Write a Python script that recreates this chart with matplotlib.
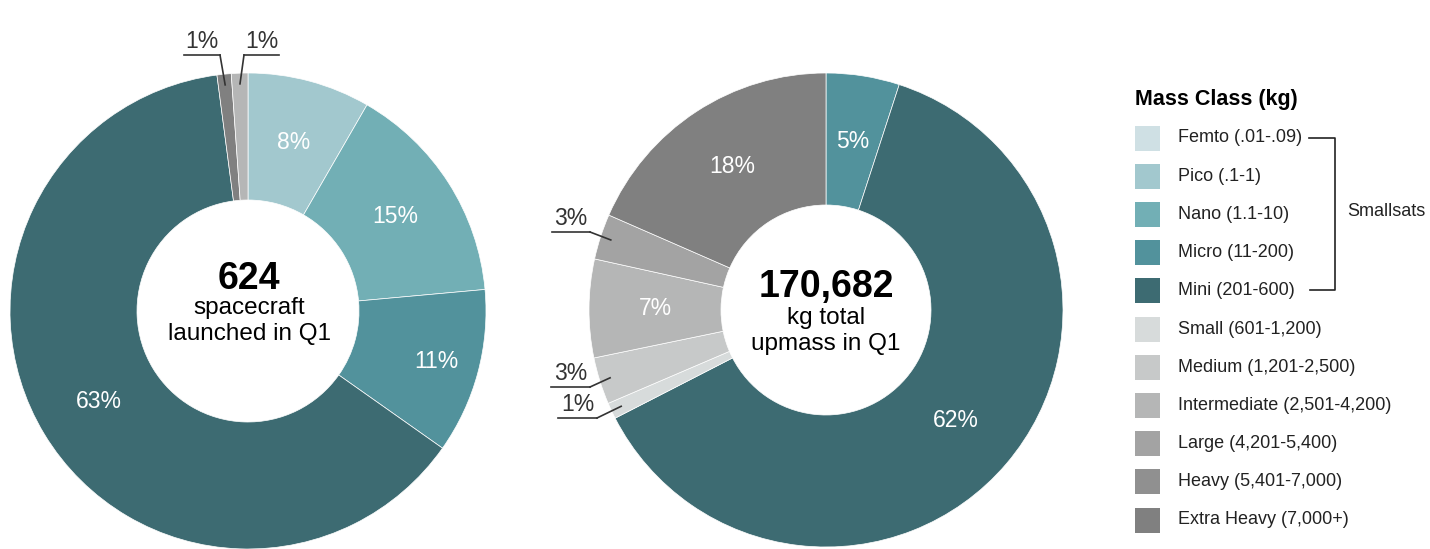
import numpy as np
import matplotlib.pyplot as plt
from matplotlib.patches import Rectangle

plt.rcParams['font.family'] = ['Liberation Sans', 'DejaVu Sans']

# Mass classes and colours (legend order)
classes = ["Femto (.01-.09)", "Pico (.1-1)", "Nano (1.1-10)", "Micro (11-200)",
           "Mini (201-600)", "Small (601-1,200)", "Medium (1,201-2,500)",
           "Intermediate (2,501-4,200)", "Large (4,201-5,400)",
           "Heavy (5,401-7,000)", "Extra Heavy (7,000+)"]
colors = ["#cfe0e4", "#a2c8ce", "#72afb5", "#52929c", "#3d6b72", "#d7dbdb",
          "#c7c9c9", "#b5b6b6", "#a3a3a3", "#909090", "#808080"]

# Left donut: spacecraft counts (clockwise from top)
left_classes = [1, 2, 3, 4, 10, 7]
left_counts = [52, 95, 70, 394, 6, 7]

# Right donut: upmass in kg (clockwise from top)
right_classes = [3, 4, 5, 6, 7, 8, 10]
right_mass = [8534, 106600, 1880, 5460, 11440, 5290, 31478]

W, H = 1430, 549
fig = plt.figure(figsize=(W / 100, H / 100), dpi=100)
ax = fig.add_axes([0, 0, 1, 1])


def donut(vals, cls, cx, cy, R, hole, ext, rfac):
    # inverted y axis: counterclock in data = clockwise on screen
    wedges, _ = ax.pie(vals, colors=[colors[c] for c in cls], startangle=-90,
                       counterclock=True, center=(cx, cy), radius=R,
                       wedgeprops=dict(width=R - hole, edgecolor="white", linewidth=0.5))
    pct = np.array(vals) / sum(vals) * 100
    rmid = (R + hole) / 2
    for i, w in enumerate(wedges):
        th = np.deg2rad((w.theta1 + w.theta2) / 2)
        lab = "%d%%" % round(pct[i])
        if i in ext:
            x0, x1, y, side = ext[i]
            r = 0.955 * R
            ex, ey = cx + r * np.cos(th), cy + r * np.sin(th)
            ax.text((x0 + x1) / 2, y - 2, lab, ha="center", va="bottom",
                    fontsize=16.5, color="#333333")
            ax.plot([x0, x1], [y, y], color="#333333", lw=1.2)
            sx = x1 if side == "r" else x0
            ax.plot([sx, ex], [y, ey], color="#333333", lw=1.2)
        else:
            rr = rmid * rfac.get(i, 1.0)
            ax.text(cx + rr * np.cos(th), cy + rr * np.sin(th), lab,
                    ha="center", va="center", fontsize=16.5, color="white")


donut(left_counts, left_classes, 248, 311, 238, 111,
      {4: (184, 220, 55, "r"), 5: (244, 279, 55, "l")}, {2: 1.12})
donut(right_mass, right_classes, 826, 310, 237, 105,
      {2: (558, 597, 418, "r"), 3: (551, 590, 387, "r"), 5: (552, 590, 232, "r")},
      {})

# centre texts
ax.text(249, 279, "{:,}".format(sum(left_counts)), ha="center", va="center",
        fontsize=27, fontweight="bold")
ax.text(249, 308, "spacecraft", ha="center", va="center", fontsize=17.5)
ax.text(249, 334, "launched in Q1", ha="center", va="center", fontsize=17.5)
ax.text(826, 287, "{:,}".format(sum(right_mass)), ha="center", va="center",
        fontsize=27, fontweight="bold")
ax.text(826, 318, "kg total", ha="center", va="center", fontsize=17.5)
ax.text(826, 344, "upmass in Q1", ha="center", va="center", fontsize=17.5)

# legend
ax.text(1135, 99, "Mass Class (kg)", ha="left", va="center", fontsize=15.5,
        fontweight="bold")
for i, (name, col) in enumerate(zip(classes, colors)):
    y = 138 + i * 38.2
    ax.add_patch(Rectangle((1135, y - 12.5), 25, 25, color=col, lw=0))
    ax.text(1178, y, name, ha="left", va="center", fontsize=13, color="#222222")
ax.plot([1309, 1335, 1335, 1310], [138, 138, 290, 290], color="#222222", lw=1.2)
ax.text(1347, 212, "Smallsats", ha="left", va="center", fontsize=13, color="#222222")

ax.set_xlim(0, W)
ax.set_ylim(H, 0)
ax.set_aspect("equal")
ax.axis("off")
fig.savefig("out.png", dpi=100, facecolor="white")
